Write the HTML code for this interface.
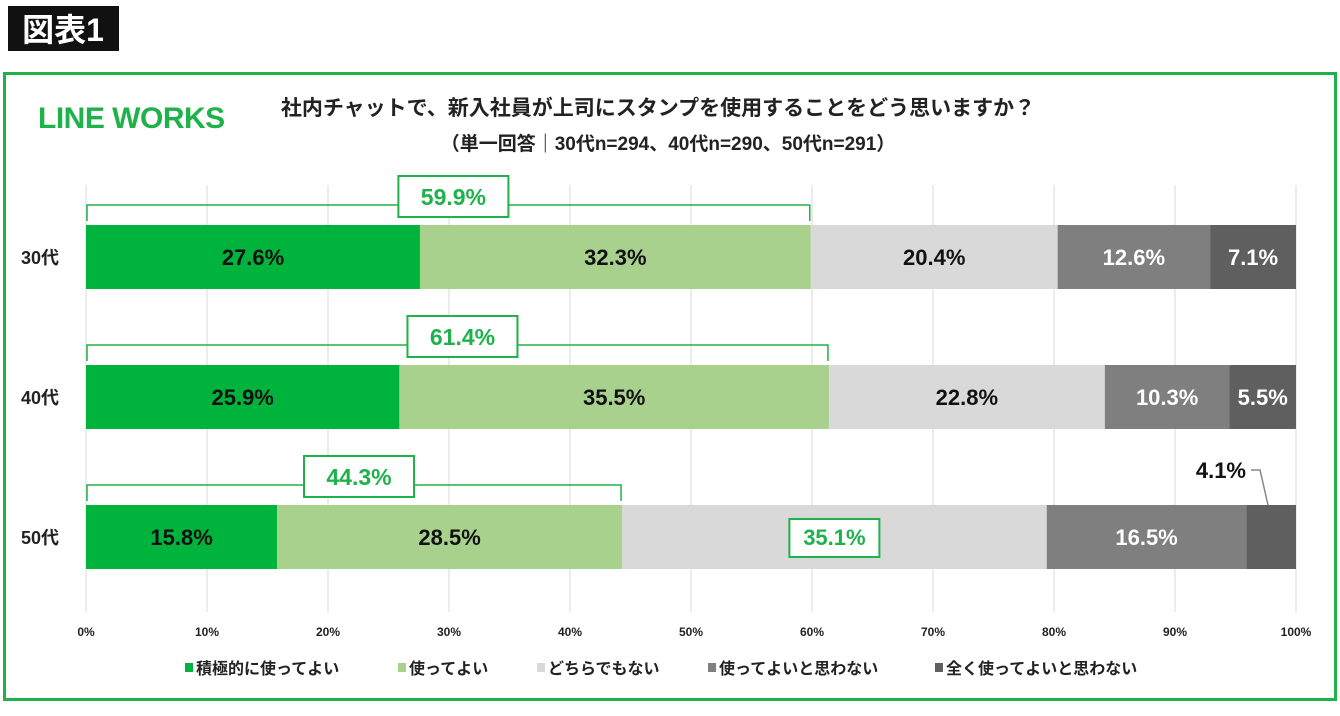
<!DOCTYPE html>
<html><head><meta charset="utf-8">
<style>
body{margin:0;width:1340px;height:711px;background:#fff;overflow:hidden;font-family:"Liberation Sans","Noto Sans CJK JP",sans-serif;}
svg text{font-family:"Liberation Sans","Noto Sans CJK JP",sans-serif;}
</style></head>
<body>
<svg id="c" width="1340" height="711">
<rect x="8" y="6" width="111" height="45" fill="#111"/>
<text x="63" y="41" font-size="32" fill="#fff" text-anchor="middle" font-weight="bold">図表1</text>
<rect x="4.5" y="73.5" width="1331" height="626" fill="none" stroke="#1fb24a" stroke-width="3"/>
<text x="38" y="128" font-size="30" font-weight="bold" fill="#1fb24a" letter-spacing="-0.5">LINE WORKS</text>
<text x="658" y="115" font-size="21" font-weight="bold" fill="#222" text-anchor="middle">社内チャットで、新入社員が上司にスタンプを使用することをどう思いますか？</text>
<text x="668" y="150" font-size="19" font-weight="bold" fill="#222" text-anchor="middle">（単一回答｜30代n=294、40代n=290、50代n=291）</text>
<g id="grid"></g><g id="bars"></g><g id="legend"></g>
</svg>
<script>
const categories=["30代","40代","50代"];
const s1=[27.6,25.9,15.8];
const s2=[32.3,35.5,28.5];
const s3=[20.4,22.8,35.1];
const s4=[12.6,10.3,16.5];
const s5=[7.1,5.5,4.1];
const totals=["59.9%","61.4%","44.3%"];
const ticks=[0,10,20,30,40,50,60,70,80,90,100];
const seriesNames=["積極的に使ってよい","使ってよい","どちらでもない","使ってよいと思わない","全く使ってよいと思わない"];
const colors=["#00b33c","#a9d18e","#d9d9d9","#7f7f7f","#5f5f5f"];
const textColors=["#111","#111","#111","#fff","#fff"];
const NS="http://www.w3.org/2000/svg";
const x=v=>86+v*12.1;
const yTop=i=>225+i*140;
const BH=64;
function mk(t,a,p,txt){const e=document.createElementNS(NS,t);for(const k in a)e.setAttribute(k,a[k]);if(txt!==undefined)e.textContent=txt;p.appendChild(e);return e;}
const grid=document.getElementById('grid'),bars=document.getElementById('bars'),leg=document.getElementById('legend');
ticks.forEach(t=>{
 const l=mk('line',{x1:x(t),x2:x(t),y1:185,y2:612,stroke:'#d9d9d9','stroke-width':1},grid);
 
 const tx=mk('text',{x:x(t),y:636,'font-size':12,'font-weight':'bold','text-anchor':'middle',fill:'#222'},grid,t+'%');
 
});
const all=[s1,s2,s3,s4,s5];
categories.forEach((c,i)=>{
 const y0=yTop(i);
 const cl=mk('text',{x:40,y:y0+BH/2+7,'font-size':18,'font-weight':'bold','text-anchor':'middle',fill:'#222'},bars,c);
 
 let acc=0;
 all.forEach((s,k)=>{
  const v=s[i];
  const r=mk('rect',{x:x(acc),y:y0,width:x(acc+v)-x(acc),height:BH,fill:colors[k]},bars);
  
  const cx=(x(acc)+x(acc+v))/2;
  if(k===4&&v<5){
   const t=mk('text',{x:x(acc+v)-50,y:y0-27,'font-size':22,'font-weight':'bold','text-anchor':'end',fill:'#111'},bars,v.toFixed(1)+'%');
   
   const p=mk('polyline',{points:`${x(acc+v)-45},${y0-35} ${x(acc+v)-36},${y0-35} ${x(acc+v)-28},${y0}`,fill:'none',stroke:'#888','stroke-width':1.5},bars);
   
  } else {
   const hl=(k===2&&i===2);
   if(hl){const b=mk('rect',{x:cx-45,y:y0+14,width:90,height:38,fill:'#fff',stroke:'#1fb24a','stroke-width':2},bars);
    }
   const t=mk('text',{x:cx,y:y0+BH/2+8,'font-size':22,'font-weight':'bold','text-anchor':'middle',fill:hl?'#1fb24a':textColors[k]},bars,v.toFixed(1)+'%');
   
  }
  acc+=v;
 });
 const sum=s1[i]+s2[i];
 const by=y0-20;
 const br=mk('path',{d:`M${x(0)+1},${y0-4} L${x(0)+1},${by} L${x(sum)-1},${by} L${x(sum)-1},${y0-4}`,fill:'none',stroke:'#1fb24a','stroke-width':1.5},bars);
 
 const bc=x(sum/2)+5;
 const bx=mk('rect',{x:bc-55,y:by-29,width:110,height:41,fill:'#fff',stroke:'#1fb24a','stroke-width':2},bars);
 
 const bt=mk('text',{x:bc,y:by-0,'font-size':23,'font-weight':'bold','text-anchor':'middle',fill:'#1fb24a'},bars,totals[i]);
 
});
const lx=[185,398,537,708,935];
seriesNames.forEach((n,k)=>{
 const r=mk('rect',{x:lx[k],y:663,width:8,height:9,fill:colors[k]},leg);
 
 const t=mk('text',{x:lx[k]+11,y:674,'font-size':16,'font-weight':'bold',fill:'#222'},leg,n);
 
});
</script>
</body></html>
